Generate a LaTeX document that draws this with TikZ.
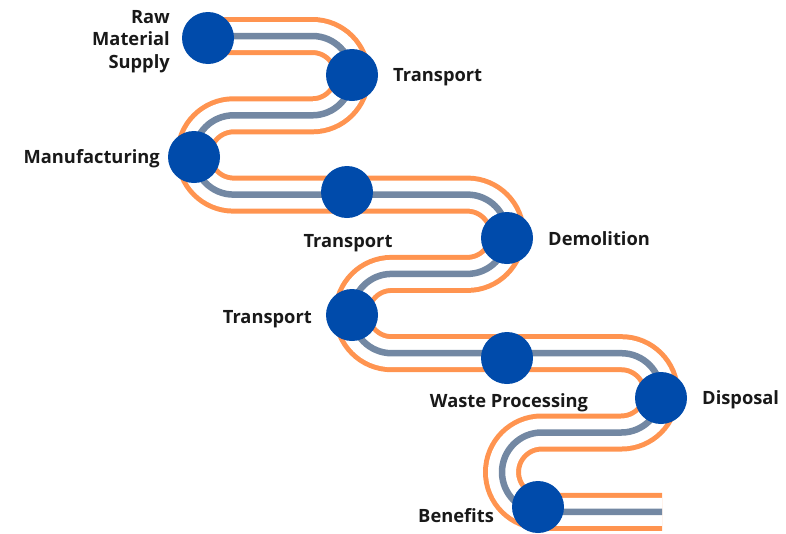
\documentclass[tikz,border=0pt]{standalone}
\usepackage{fontspec}
\setmainfont{Open Sans}

\definecolor{track}{HTML}{FF9450}
\definecolor{rail}{HTML}{7388A3}
\definecolor{stop}{HTML}{004BAB}

\begin{document}
\begin{tikzpicture}[x = 1pt, y = -1pt, every node/.style = {font = \fontsize{18.3}{22.5}\selectfont\bfseries,
	text = black!90}, station/.style = {circle, fill = stop, minimum size = 52pt, inner sep = 0pt},
	tag/.style = {inner sep = 0pt}]

		\useasboundingbox (0, 0) rectangle (786, 533);

		% serpentine track: orange band, white gap, grey rail
		\foreach \col/\wd in {track/38, white/28, rail/6.5}
			\draw[\col, line width = \wd pt, rounded corners = 39.65pt]
				(208, 36) -- (352, 36) -- (352, 115.3) -- (194, 115.3) -- (194, 194.6)
				-- (507, 194.6) -- (507, 273.9) -- (352, 273.9) -- (352, 353.2)
				-- (661, 353.2) -- (661, 432.5) -- (502, 432.5) -- (502, 511.8) -- (662, 511.8);

		\node (RMS) at (208,  38) [station] {};
		\node (TR1) at (352,  75) [station] {};
		\node (MFG) at (194, 157) [station] {};
		\node (TR2) at (347, 192) [station] {};
		\node (DEM) at (507, 238) [station] {};
		\node (TR3) at (352, 315) [station] {};
		\node (WST) at (507, 358) [station] {};
		\node (DSP) at (661, 398) [station] {};
		\node (BEN) at (538, 507) [station] {};

		\node (RMSl) at (170,  41.5) [tag, anchor = east, align = right] {Raw\\Material\\Supply};
		\node (TR1l) at (393,  81)   [tag, anchor = base west] {Transport};
		\node (MFGl) at (160, 163)   [tag, anchor = base east] {Manufacturing};
		\node (TR2l) at (348, 247)   [tag, anchor = base] {Transport};
		\node (DEMl) at (548, 245.5) [tag, anchor = base west] {Demolition};
		\node (TR3l) at (312, 323)   [tag, anchor = base east] {Transport};
		\node (WSTl) at (509, 407)   [tag, anchor = base] {Waste Processing};
		\node (DSPl) at (702, 404)   [tag, anchor = base west] {Disposal};
		\node (BENl) at (418, 522.7) [tag, anchor = base west] {Benefits};

	\end{tikzpicture}
\end{document}
